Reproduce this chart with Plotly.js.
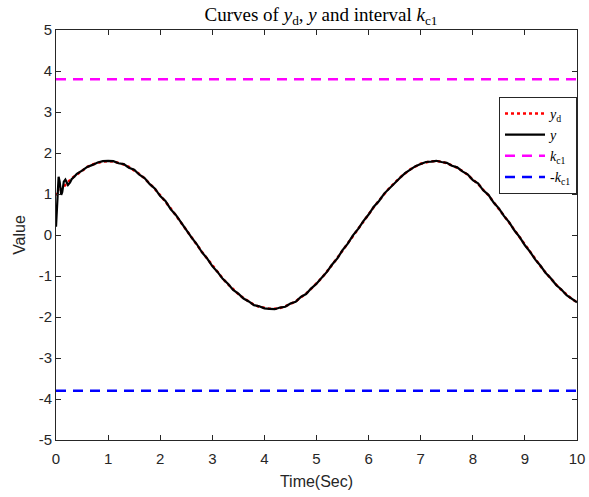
<!DOCTYPE html>
<html>
<head>
<meta charset="utf-8">
<script src="https://cdn.plot.ly/plotly-3.0.1.min.js"></script>
<style>html,body{margin:0;padding:0;background:#fff;}#chart{width:589px;height:497px;}</style>
</head>
<body>
<div id="chart"></div>
<script>
// Reference signal y_d (time step 0.1 s)
const tD = [0,0.1,0.2,0.3,0.4,0.5,0.6,0.7,0.8,0.9,1.0,1.1,1.2,1.3,1.4,1.5,1.6,1.7,1.8,1.9,2.0,2.1,2.2,2.3,2.4,2.5,2.6,2.7,2.8,2.9,3.0,3.1,3.2,3.3,3.4,3.5,3.6,3.7,3.8,3.9,4.0,4.1,4.2,4.3,4.4,4.5,4.6,4.7,4.8,4.9,5.0,5.1,5.2,5.3,5.4,5.5,5.6,5.7,5.8,5.9,6.0,6.1,6.2,6.3,6.4,6.5,6.6,6.7,6.8,6.9,7.0,7.1,7.2,7.3,7.4,7.5,7.6,7.7,7.8,7.9,8.0,8.1,8.2,8.3,8.4,8.5,8.6,8.7,8.8,8.9,9.0,9.1,9.2,9.3,9.4,9.5,9.6,9.7,9.8,9.9,10.0];
const yd = [0.97,1.12,1.25,1.38,1.48,1.58,1.66,1.72,1.76,1.79,1.80,1.79,1.76,1.72,1.66,1.58,1.49,1.38,1.26,1.12,0.97,0.82,0.65,0.48,0.31,0.13,-0.05,-0.23,-0.41,-0.58,-0.75,-0.91,-1.06,-1.20,-1.33,-1.44,-1.54,-1.63,-1.70,-1.75,-1.78,-1.80,-1.80,-1.78,-1.74,-1.68,-1.62,-1.52,-1.43,-1.31,-1.18,-1.05,-0.89,-0.73,-0.56,-0.38,-0.20,-0.02,0.16,0.33,0.51,0.68,0.84,1.00,1.15,1.27,1.40,1.50,1.60,1.67,1.74,1.77,1.80,1.80,1.79,1.75,1.70,1.64,1.56,1.47,1.35,1.25,1.10,0.97,0.80,0.64,0.47,0.30,0.12,-0.06,-0.24,-0.42,-0.59,-0.76,-0.92,-1.07,-1.21,-1.34,-1.46,-1.56,-1.64];

// Output y
const tY = [0,0.02,0.05,0.07,0.1,0.12,0.15,0.18,0.2,0.23,0.27,0.3,0.35,0.4,0.5,0.6,0.7,0.8,0.9,1.0,1.1,1.2,1.3,1.4,1.5,1.6,1.7,1.8,1.9,2.0,2.1,2.2,2.3,2.4,2.5,2.6,2.7,2.8,2.9,3.0,3.1,3.2,3.3,3.4,3.5,3.6,3.7,3.8,3.9,4.0,4.1,4.2,4.3,4.4,4.5,4.6,4.7,4.8,4.9,5.0,5.1,5.2,5.3,5.4,5.5,5.6,5.7,5.8,5.9,6.0,6.1,6.2,6.3,6.4,6.5,6.6,6.7,6.8,6.9,7.0,7.1,7.2,7.3,7.4,7.5,7.6,7.7,7.8,7.9,8.0,8.1,8.2,8.3,8.4,8.5,8.6,8.7,8.8,8.9,9.0,9.1,9.2,9.3,9.4,9.5,9.6,9.7,9.8,9.9,10.0];
const yOut = [0.20,0.80,1.42,1.30,0.98,1.05,1.30,1.35,1.30,1.22,1.28,1.36,1.42,1.49,1.57,1.66,1.71,1.77,1.80,1.81,1.80,1.75,1.73,1.64,1.59,1.47,1.39,1.24,1.13,0.95,0.83,0.63,0.49,0.30,0.14,-0.06,-0.22,-0.42,-0.57,-0.76,-0.90,-1.07,-1.19,-1.34,-1.43,-1.55,-1.62,-1.71,-1.74,-1.79,-1.80,-1.81,-1.77,-1.75,-1.67,-1.63,-1.51,-1.44,-1.30,-1.19,-1.04,-0.90,-0.72,-0.57,-0.37,-0.21,-0.01,0.15,0.34,0.50,0.69,0.83,1.01,1.14,1.28,1.39,1.51,1.59,1.68,1.73,1.78,1.79,1.81,1.78,1.76,1.69,1.65,1.55,1.48,1.34,1.26,1.09,0.98,0.79,0.65,0.46,0.31,0.11,-0.05,-0.25,-0.41,-0.60,-0.75,-0.93,-1.06,-1.22,-1.33,-1.47,-1.55,-1.64];

// Interval bounds
const tK = [0, 10];
const kc1 = [3.8, 3.8];
const negKc1 = [-3.8, -3.8];

const names = ['<i>y</i><sub>d</sub>', '<i>y</i>', '<i>k</i><sub>c1</sub>', '-<i>k</i><sub>c1</sub>'];
const xTicks = [0,1,2,3,4,5,6,7,8,9,10];
const yTicks = [-5,-4,-3,-2,-1,0,1,2,3,4,5];

const traces = [
  {x: tD, y: yd, mode: 'lines', name: names[0], line: {color: '#ff0000', width: 2.5, dash: 'dot'}},
  {x: tY, y: yOut, mode: 'lines', name: names[1], line: {color: '#000000', width: 2.2}},
  {x: tK, y: kc1, mode: 'lines', name: names[2], line: {color: '#ff00ff', width: 2.5, dash: '10px,7px'}},
  {x: tK, y: negKc1, mode: 'lines', name: names[3], line: {color: '#0000ff', width: 2.5, dash: '10px,7px'}}
];

const sans = 'Liberation Sans, Arial, sans-serif';
const serif = 'Liberation Serif, Times New Roman, serif';

const axisCommon = {
  showgrid: false, zeroline: false, showline: true, mirror: 'ticks',
  linecolor: '#262626', linewidth: 1, ticks: 'inside', ticklen: 5, tickcolor: '#262626',
  tickfont: {family: sans, size: 15, color: '#262626'}
};

const layout = {
  width: 589, height: 497,
  margin: {l: 56, r: 12, t: 30, b: 57},
  paper_bgcolor: '#ffffff', plot_bgcolor: '#ffffff',
  title: {text: 'Curves of <i>y</i><sub>d</sub>, <i>y</i> and interval <i>k</i><sub>c1</sub>',
          font: {family: serif, size: 19, color: '#000'},
          x: 0.545, xanchor: 'center', y: 0.985, yanchor: 'top'},
  xaxis: Object.assign({}, axisCommon, {range: [0, 10], tickvals: xTicks, ticktext: xTicks.map(String),
          ticklabelstandoff: 5,
          title: {text: 'Time(Sec)', font: {family: sans, size: 16, color: '#262626'}, standoff: 9}}),
  yaxis: Object.assign({}, axisCommon, {range: [-5, 5], tickvals: yTicks, ticktext: yTicks.map(String),
          title: {text: 'Value', font: {family: sans, size: 16, color: '#262626'}, standoff: 9}}),
  showlegend: true,
  legend: {x: 1, xanchor: 'right', y: 0.837, yanchor: 'top',
           bgcolor: '#ffffff', bordercolor: '#262626', borderwidth: 1,
           font: {family: serif, size: 14, color: '#000'},
           tracegroupgap: 0, itemwidth: 40}
};

Plotly.newPlot('chart', traces, layout, {displayModeBar: false, staticPlot: true});
</script>
</body>
</html>
